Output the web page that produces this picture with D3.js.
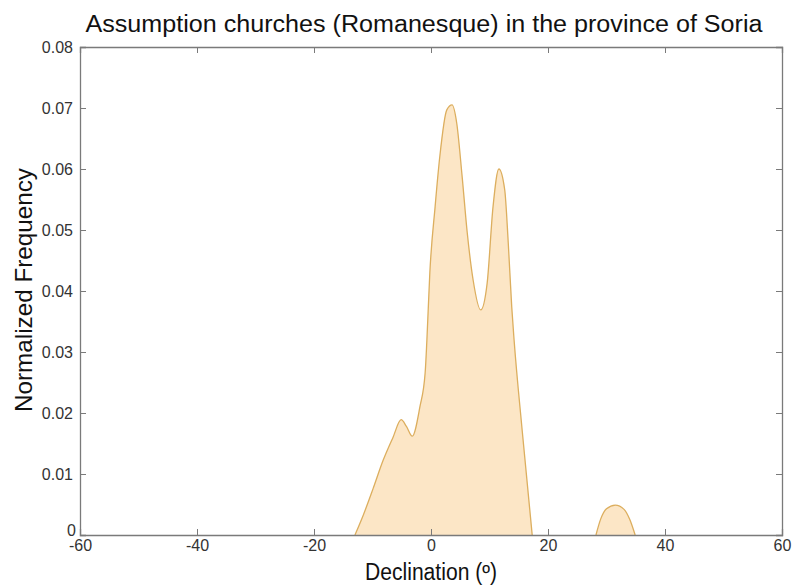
<!DOCTYPE html>
<html><head><meta charset="utf-8">
<script src="https://cdn.jsdelivr.net/npm/d3@7/dist/d3.min.js"></script>
<style>body{margin:0;background:#fff}svg{display:block}text{font-family:"Liberation Sans",Arial,sans-serif}</style>
</head><body>
<script>
const declination = [-13, -11.6, -9.9, -8.2, -6.5, -5.1, -4.2, -3.2, -1.9, -1.0, -0.7, -0.2, 0.7, 1.5, 2.7, 3.6, 4.4, 5.3, 6.2, 7.2, 8.5, 9.6, 10.6, 11.6, 12.6, 13.2, 13.8, 14.2, 15.6, 17.3];
const frequency   = [0, 0.0032, 0.0076, 0.0122, 0.016, 0.0189, 0.0178, 0.0162, 0.021, 0.0266, 0.032, 0.043, 0.0538, 0.062, 0.0697, 0.0705, 0.0675, 0.059, 0.0495, 0.0418, 0.0369, 0.0413, 0.0538, 0.060, 0.0566, 0.048, 0.0374, 0.032, 0.017, 0];
const declination2 = [28.2, 29.0, 30.0, 31.5, 33.0, 34.0, 34.9];
const frequency2   = [0, 0.0026, 0.0043, 0.0049, 0.0042, 0.0025, 0];
const xTicks = [-60, -40, -20, 0, 20, 40, 60];
const yTicks = [0, 0.01, 0.02, 0.03, 0.04, 0.05, 0.06, 0.07, 0.08];
const titleText = "Assumption churches (Romanesque) in the province of Soria";
const xLabel = "Declination (º)";
const yLabel = "Normalized Frequency";

const W = 796, H = 586;
const m = {l: 80, r: 14, t: 47, b: 51};
const svg = d3.select("body").append("svg").attr("width", W).attr("height", H);
const x = d3.scaleLinear().domain([-60, 60]).range([m.l, W - m.r]);
const y = d3.scaleLinear().domain([0, 0.08]).range([H - m.b, m.t]);

const area = d3.area().x(p => x(p.d)).y0(y(0)).y1(p => y(p.v)).curve(d3.curveMonotoneX);
const line = d3.line().x(p => x(p.d)).y(p => y(p.v)).curve(d3.curveMonotoneX);
[[declination, frequency], [declination2, frequency2]].forEach(([ds, vs]) => {
  const data = ds.map((d, i) => ({d, v: vs[i]}));
  svg.append("path").datum(data).attr("d", area).attr("fill", "#fce6c6");
  svg.append("path").datum(data).attr("d", line).attr("fill", "none").attr("stroke", "#dcae5e").attr("stroke-width", 1.3);
});

const axisColor = "#7a7a7a";
const tickLen = 6;
const fmtX = d => String(d);
const gx = svg.append("g").attr("transform", `translate(0,${y(0)})`)
  .call(d3.axisBottom(x).tickValues(xTicks).tickSize(-tickLen).tickPadding(9).tickFormat(fmtX));
const gxt = svg.append("g").attr("transform", `translate(0,${y(0.08)})`)
  .call(d3.axisTop(x).tickValues(xTicks).tickSize(-tickLen).tickFormat(""));
const gy = svg.append("g").attr("transform", `translate(${x(-60)},0)`)
  .call(d3.axisLeft(y).tickValues(yTicks).tickSize(-tickLen).tickPadding(7).tickFormat(d => d === 0 ? "0" : d3.format(".2f")(d)));
const gyr = svg.append("g").attr("transform", `translate(${x(60)},0)`)
  .call(d3.axisRight(y).tickValues(yTicks).tickSize(-tickLen).tickFormat(""));
[gx, gxt, gy, gyr].forEach(g => {
  g.select(".domain").attr("stroke", axisColor).attr("stroke-width", 1.3);
  g.selectAll(".tick line").attr("stroke", axisColor).attr("stroke-width", 1);
  g.selectAll(".tick text").attr("fill", "#333").attr("font-size", 16).attr("font-family", "'Liberation Sans',Arial,sans-serif");
});
gy.selectAll(".tick text").attr("dy", "0.35em");
gx.selectAll(".tick text").attr("dy", "0.45em");
gy.selectAll(".tick").filter(d => d === 0).select("text").attr("dy", "0.05em").attr("x", -4);

svg.append("text").attr("x", 424).attr("y", 32).attr("text-anchor", "middle")
  .attr("font-size", 23).attr("fill", "#111").attr("textLength", 677).attr("lengthAdjust", "spacingAndGlyphs").text(titleText);
svg.append("text").attr("x", x(0)).attr("y", 580).attr("text-anchor", "middle")
  .attr("font-size", 23).attr("fill", "#111").attr("textLength", 132).attr("lengthAdjust", "spacingAndGlyphs").text(xLabel);
svg.append("text").attr("transform", `translate(32,290) rotate(-90)`).attr("text-anchor", "middle")
  .attr("font-size", 24).attr("fill", "#111").attr("textLength", 244).attr("lengthAdjust", "spacingAndGlyphs").text(yLabel);
</script>
</body></html>
